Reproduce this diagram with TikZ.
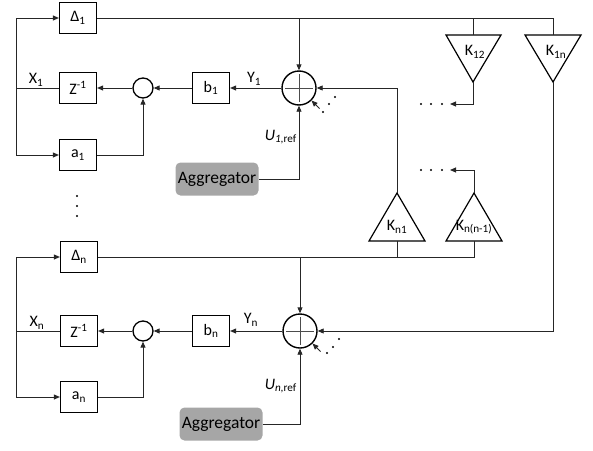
\documentclass[tikz,border=0pt]{standalone}
\usepackage{fontspec}
\setmainfont{Carlito}
\usetikzlibrary{arrows.meta,calc}
\begin{document}
\begin{tikzpicture}[x=1pt,y=-1pt,
  box/.style={draw, line width=1.2pt, minimum width=37pt, minimum height=31pt, inner sep=0pt, font=\fontsize{16}{19}\selectfont},
  agg/.style={fill=black!35, rounded corners=5pt, minimum width=83pt, minimum height=33pt, inner sep=0pt, font=\fontsize{17.5}{20}\selectfont},
  sm/.style={circle, draw, line width=1.3pt, minimum size=20pt, inner sep=0pt},
  big/.style={circle, draw, line width=1.4pt, minimum size=34pt, inner sep=0pt},
  tri/.style={draw, line width=1.2pt, line join=miter},
  conn/.style={line width=0.9pt, draw=black!85},
  arr/.style={conn, -{Triangle[length=6pt,width=5pt]}},
  lbl/.style={font=\fontsize{16}{19}\selectfont, inner sep=0pt},
  klbl/.style={font=\fontsize{16}{19}\selectfont, inner sep=0pt},
  dot/.style={fill=black}
]
\useasboundingbox (0,0) rectangle (593,450);

% ---------- unit 1 ----------
\node[box] (d1) at (78,18) {Δ\textsubscript{1}};
\node[box] (z1) at (78,88) {Z\textsuperscript{-1}};
\node[box] (a1) at (78,155) {a\textsubscript{1}};
\node[sm] (c1) at (143,88) {};
\node[box] (b1) at (211,88) {b\textsubscript{1}};
\node[big] (S1) at (299,88) {};
\draw[line width=0.8pt, black!70] (S1.center) ++(-14,0) -- ++(28,0);
\draw[line width=0.8pt, black!70] (S1.center) ++(0,-14) -- ++(0,28);
\node[agg] (ag1) at (217,179) {Aggregator};
\node[lbl] (x1) at (36,80) {X\textsubscript{1}};
\node[lbl] (y1) at (254,79) {Y\textsubscript{1}};
\node[lbl, anchor=east] (u1) at (297,137) {\textit{U}\textsubscript{\textit{1,}ref}};

\coordinate (L1m) at (16,88);
\draw[conn] (z1.west) -- (L1m);
\draw[arr] (L1m) |- (d1.west);
\draw[arr] (L1m) |- (a1.west);
\draw[arr] (S1.west) -- (b1.east);
\draw[arr] (b1.west) -- (c1.east);
\draw[arr] (c1.west) -- (z1.east);
\draw[arr] (a1.east) -| (c1.south);
\draw[arr] (ag1.east) -| (S1.south);

% vertical dots
\fill[dot] (77,196) circle (1.1pt);
\fill[dot] (77,206) circle (1.1pt);
\fill[dot] (77,216) circle (1.1pt);

% ---------- triangles K12, K1n (pointing down) ----------
\coordinate (K12top) at (473,35);
\coordinate (K12apex) at (473,82);
\draw[tri] (446,35) -- (501,35) -- (K12apex) -- cycle;
\node[klbl] (k12) at (475,52) {K\textsubscript{12}};
\coordinate (K1ntop) at (553,35);
\coordinate (K1napex) at (553,82);
\draw[tri] (525,35) -- (581,35) -- (K1napex) -- cycle;
\node[klbl] (k1n) at (556,52) {K\textsubscript{1n}};

\draw[conn] (d1.east) -| (K1ntop);
\draw[arr] (d1.east -| S1) -- (S1.north);
\draw[conn] (d1.east -| K12top) -- (K12top);

\coordinate (dA) at (450,104);
\draw[arr] (K12apex) |- (dA);
\fill[dot] (421,104) circle (1.1pt);
\fill[dot] (431,104) circle (1.1pt);
\fill[dot] (442,104) circle (1.1pt);

% ---------- triangles Kn1, Kn(n-1) (pointing up) ----------
\coordinate (Kn1apex) at (397,193);
\coordinate (Kn1base) at (397,241);
\draw[tri] (369,241) -- (425,241) -- (Kn1apex) -- cycle;
\node[klbl] (kn1) at (397,227) {K\textsubscript{n1}};
\coordinate (Knnapex) at (474,193);
\coordinate (Knnbase) at (474,241);
\draw[tri] (446,241) -- (502,241) -- (Knnapex) -- cycle;
\node[klbl] (knn) at (474,227) {K\textsubscript{n(n-1)}};

\draw[arr] (Kn1apex) |- (S1.east);
\coordinate (dB) at (450,170);
\draw[arr] (Knnapex) |- (dB);
\fill[dot] (421,170) circle (1.1pt);
\fill[dot] (431,170) circle (1.1pt);
\fill[dot] (442,170) circle (1.1pt);

% S1 extra input
\coordinate (s1t) at ($(S1.-45)+(8,8)$);
\draw[arr] (s1t) -- (S1.-45);
\fill[dot] (323,112) circle (1.1pt);
\fill[dot] (329,104) circle (1.1pt);
\fill[dot] (335,97) circle (1.1pt);

% ---------- unit n ----------
\node[box] (dn) at (79,257) {Δ\textsubscript{n}};
\node[box] (zn) at (79,331) {Z\textsuperscript{-1}};
\node[box] (an) at (79,397) {a\textsubscript{n}};
\node[sm] (cn) at (143,331) {};
\node[box] (bn) at (211,331) {b\textsubscript{n}};
\node[big] (S2) at (300,331) {};
\draw[line width=0.8pt, black!70] (S2.center) ++(-14,0) -- ++(28,0);
\draw[line width=0.8pt, black!70] (S2.center) ++(0,-14) -- ++(0,28);
\node[agg] (ag2) at (221,424) {Aggregator};
\node[lbl] (xn) at (37,323) {X\textsubscript{n}};
\node[lbl] (yn) at (251,320) {Y\textsubscript{n}};
\node[lbl, anchor=east] (un) at (297,386) {\textit{U}\textsubscript{\textit{n,}ref}};

\coordinate (Lnm) at (16,331);
\draw[conn] (zn.west) -- (Lnm);
\draw[arr] (Lnm) |- (dn.west);
\draw[arr] (Lnm) |- (an.west);
\draw[arr] (S2.west) -- (bn.east);
\draw[arr] (bn.west) -- (cn.east);
\draw[arr] (cn.west) -- (zn.east);
\draw[arr] (an.east) -| (cn.south);
\draw[arr] (ag2.east) -| (S2.south);

\draw[conn] (dn.east) -- (dn.east -| Knnbase) -- (Knnbase);
\draw[conn] (Kn1base) -- (Kn1base |- dn.east);
\draw[arr] (dn.east -| S2) -- (S2.north);
\draw[arr] (K1napex) |- (S2.east);

\coordinate (s2t) at ($(S2.-45)+(8,8)$);
\draw[arr] (s2t) -- (S2.-45);
\fill[dot] (327,353) circle (1.1pt);
\fill[dot] (333,347) circle (1.1pt);
\fill[dot] (339,339) circle (1.1pt);
\end{tikzpicture}
\end{document}
